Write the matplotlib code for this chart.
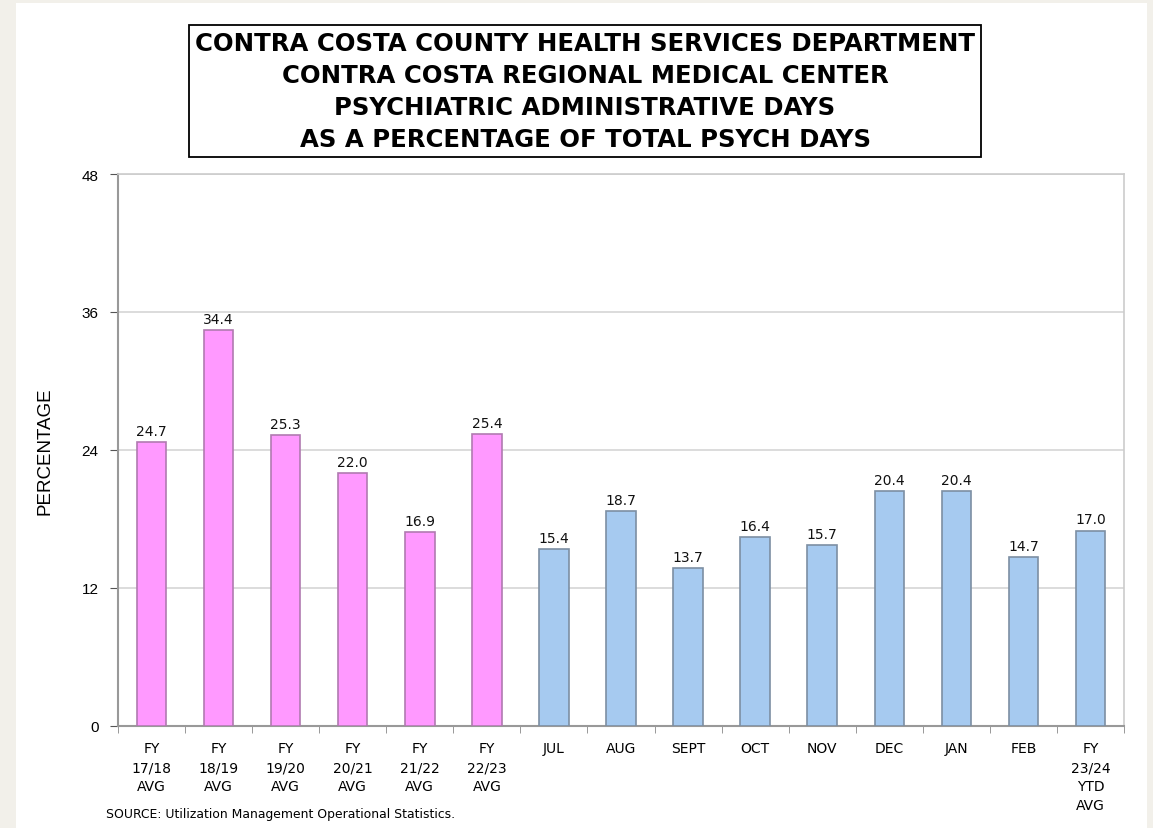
import matplotlib.pyplot as plt
from matplotlib.patches import Rectangle
import numpy as np

categories = ["FY\n17/18\nAVG", "FY\n18/19\nAVG", "FY\n19/20\nAVG", "FY\n20/21\nAVG",
              "FY\n21/22\nAVG", "FY\n22/23\nAVG", "JUL", "AUG", "SEPT", "OCT", "NOV",
              "DEC", "JAN", "FEB", "FY\n23/24\nYTD\nAVG"]
values = [24.7, 34.4, 25.3, 22.0, 16.9, 25.4, 15.4, 18.7, 13.7, 16.4, 15.7, 20.4, 20.4, 14.7, 17.0]
is_history = [True] * 6 + [False] * 9
y_ticks = [0, 12, 24, 36, 48]

title = ("CONTRA COSTA COUNTY HEALTH SERVICES DEPARTMENT\n"
         "CONTRA COSTA REGIONAL MEDICAL CENTER\n"
         "PSYCHIATRIC ADMINISTRATIVE DAYS\n"
         "AS A PERCENTAGE OF TOTAL PSYCH DAYS")

fig = plt.figure(figsize=(11.53, 8.29), dpi=100, facecolor="#f2f0ea")
# white page behind the chart
fig.patches.append(Rectangle((16 / 1153, 0), (1147 - 16) / 1153, 1 - 4 / 829,
                             transform=fig.transFigure, facecolor="white",
                             edgecolor="none", zorder=-10))

ax = fig.add_axes([118 / 1153, 1 - 727 / 829, (1124 - 118) / 1153, (727 - 175) / 829])
ax.set_zorder(5)
x = np.arange(len(categories))
colors = ["#ff99ff" if h else "#a6caf0" for h in is_history]
edges = ["#b07ab0" if h else "#7d8fa3" for h in is_history]
bars = ax.bar(x, values, width=0.44, color=colors, edgecolor=edges, linewidth=1.2, zorder=3)

for xi, v in zip(x, values):
    ax.text(xi, v + 0.35, f"{v:.1f}", ha="center", va="bottom", fontsize=10,
            family="DejaVu Sans", color="#111111", zorder=4)

ax.set_xlim(-0.5, len(categories) - 0.5)
ax.set_ylim(0, 48)
ax.set_yticks(y_ticks)
ax.set_yticklabels([str(t) for t in y_ticks], family="Liberation Sans", fontsize=11)
ax.yaxis.grid(True, color="#d6d6d6", linewidth=1.2, zorder=0)
ax.set_axisbelow(True)

ax.set_xticks(x)
ax.set_xticklabels(categories, fontsize=10, family="DejaVu Sans", linespacing=1.45, va="top")
ax.tick_params(axis="x", length=0, pad=11)
ax.set_xticks(np.arange(-0.5, len(categories)), minor=True)
ax.tick_params(axis="x", which="minor", length=5, color="#888888", direction="out")
ax.tick_params(axis="y", length=6, color="#555555", pad=8)

for side in ["left", "bottom"]:
    ax.spines[side].set_color("#999999")
    ax.spines[side].set_linewidth(1.5)
for side in ["right", "top"]:
    ax.spines[side].set_color("#cccccc")
    ax.spines[side].set_linewidth(1.2)

ax.set_ylabel("PERCENTAGE", family="Liberation Sans", fontsize=13.5, labelpad=20)

fig.text(585 / 1153, 1 - 92 / 829, title, ha="center", va="center", fontsize=17.6,
         fontweight="bold", family="DejaVu Sans", linespacing=1.42,
         bbox=dict(boxstyle="square,pad=0.24", facecolor="white", edgecolor="black", linewidth=1.3))

fig.text(106 / 1153, 1 - 815 / 829, "SOURCE: Utilization Management Operational Statistics.",
         ha="left", va="center", fontsize=8.9, family="DejaVu Sans")

fig.savefig("out.png", dpi=100, facecolor=fig.get_facecolor())
